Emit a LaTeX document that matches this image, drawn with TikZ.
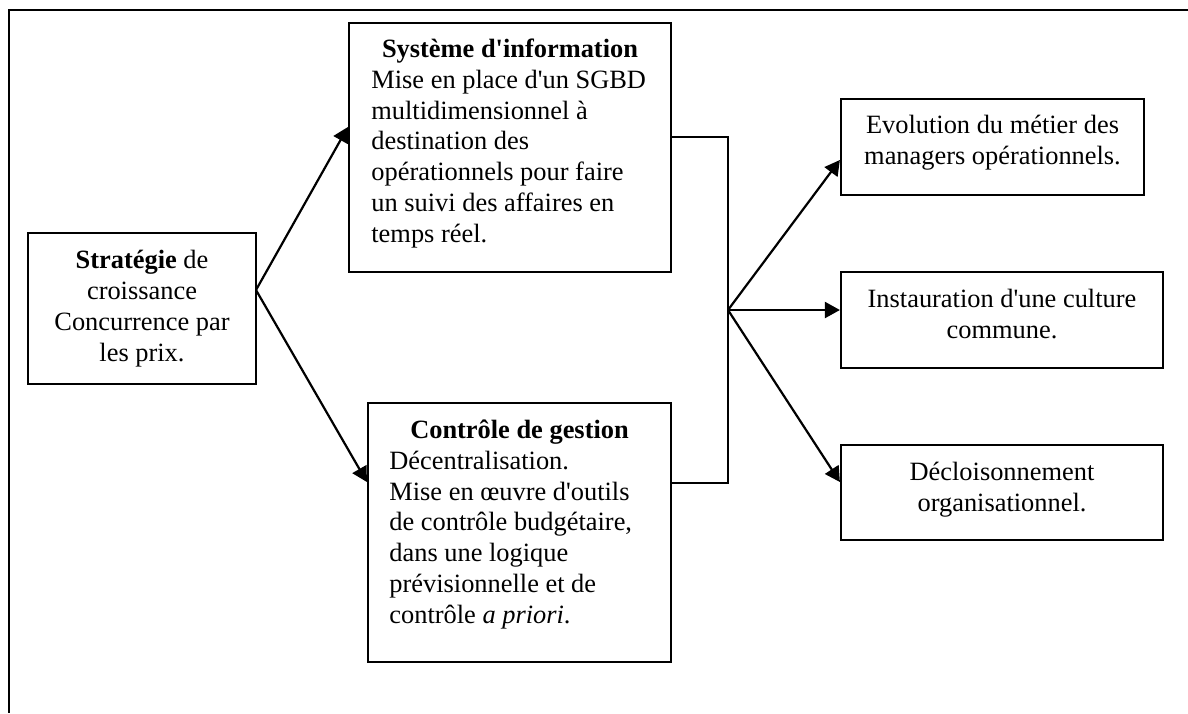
\documentclass[tikz,border=0pt]{standalone}
\usepackage{fontspec}
\setmainfont{Liberation Serif}
\usetikzlibrary{arrows.meta,fit}
\newcommand\apos{\XeTeXglyph\XeTeXcharglyph"27\relax}
\begin{document}
\begin{tikzpicture}[x=0.5pt,y=-0.5pt,
  box/.style={draw, line width=1.1pt, inner sep=0pt},
  txt/.style={inner sep=0pt, font=\fontsize{13.2}{15.35}\selectfont},
  arr/.style={line width=1.1pt, -{Triangle[length=7.5pt,width=8pt]}},
  link/.style={line width=0.8pt}]
\useasboundingbox (0,0) rectangle (1188,713);
\draw[line width=1pt] (1188,10) -- (9,10) -- (9,713);

\node[box, fit={(28,233)(256,384)}] (strat) {};
\node[box, fit={(349,23)(671,272)}] (sys) {};
\node[box, fit={(368,403)(671,662)}] (ctrl) {};
\node[box, fit={(841,99)(1144,195)}] (evo) {};
\node[box, fit={(841,272)(1163,368)}] (inst) {};
\node[box, fit={(841,445)(1163,540)}] (decl) {};

% multi-line nodes: anchor=base is the baseline of the last line
\node[txt, anchor=base, align=center] (stratT) at (142,361)
  {\textbf{Stratégie} de\\croissance\\Concurrence par\\les prix.};
\node[txt, anchor=base] (sysH) at (510,57) {\textbf{Système d\apos information}};
\node[txt, anchor=base west, align=left] (sysB) at (371,242)
  {Mise en place d\apos un SGBD\\multidimensionnel à\\destination des\\opérationnels pour faire\\un suivi des affaires en\\temps réel.};
\node[txt, anchor=base] (ctrlH) at (519.5,438) {\textbf{Contrôle de gestion}};
\node[txt, anchor=base west, align=left] (ctrlB) at (389,623)
  {Décentralisation.\\Mise en œuvre d\apos outils\\de contrôle budgétaire,\\dans une logique\\prévisionnelle et de\\contrôle \textit{a priori}.};
\node[txt, anchor=base, align=center] (evoT) at (992.5,164.5)
  {Evolution du métier des\\managers opérationnels.};
\node[txt, anchor=base, align=center] (instT) at (1002,338)
  {Instauration d\apos une culture\\commune.};
\node[txt, anchor=base, align=center] (declT) at (1002,511)
  {Décloisonnement\\organisationnel.};

\coordinate (sOut) at (256,290);
\coordinate (hub) at (728,310);
\coordinate (jt) at (728,137);
\coordinate (jb) at (728,483);
\draw[arr] (sOut) -- (sys.west |- 0,127);
\draw[arr] (sOut) -- (ctrl.west |- 0,482);
\draw[link] (sys.east |- jt) -- (jt) -- (jb) -- (ctrl.east |- jb);
\draw[arr] (hub) -- (evo.west |- 0,160);
\draw[arr] (hub) -- (inst.west |- 0,310);
\draw[arr] (hub) -- (decl.west |- 0,482);
\end{tikzpicture}
\end{document}
